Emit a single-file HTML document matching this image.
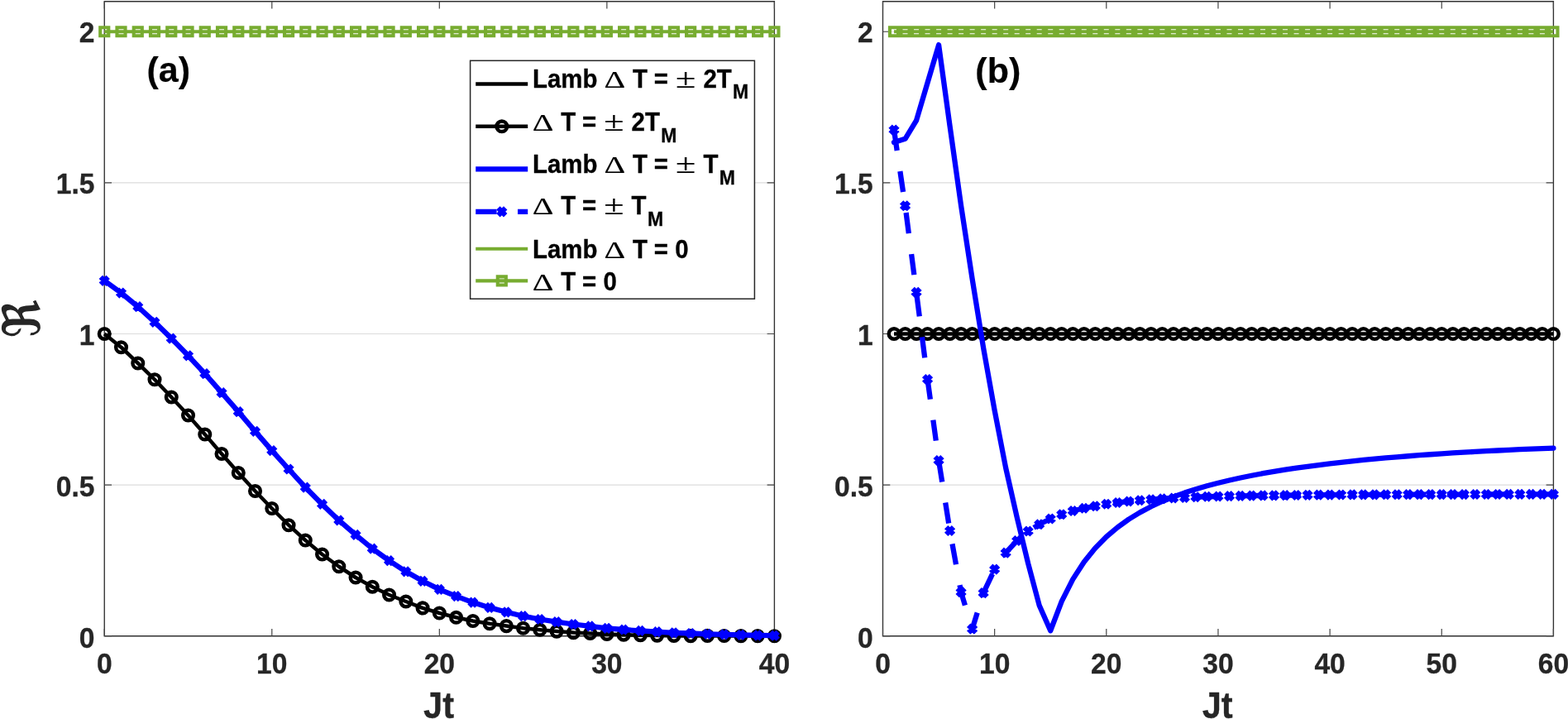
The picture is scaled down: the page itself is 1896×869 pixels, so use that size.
<!DOCTYPE html>
<html lang="en">
<head>
<meta charset="utf-8">
<title>Figure: R versus Jt, panels (a) and (b)</title>
<style>
html,body{margin:0;padding:0;background:#fff;}
body{width:1896px;height:869px;overflow:hidden;}
svg{display:block;}
text{font-family:"Liberation Sans",sans-serif;font-weight:bold;font-kerning:none;}
.tk{font-size:33.6px;fill:#262626;stroke:#262626;stroke-width:.3px;}
.xl{font-size:41.6px;fill:#262626;stroke:#262626;stroke-width:.3px;}
.re{font-family:"DejaVu Sans",serif;font-size:62.5px;fill:#262626;}
.pl{font-size:43px;fill:#000;stroke:#000;stroke-width:.2px;}
.lg{font-size:29.4px;fill:#000;stroke:#000;stroke-width:.3px;}
.sym{font-family:"Liberation Serif",serif;font-weight:normal;stroke-width:.15px;}
.d{font-size:29.19px;}
.p{font-size:31.73px;}
.sub{font-size:23px;}
</style>
</head>
<body>
<svg width="1896" height="869" viewBox="0 0 1896 869">
<rect width="1896" height="869" fill="#ffffff"/>
<!-- panel (a): axes, grid and data series -->
<g id="panel-a">
<path d="M126.25 586.12H936.4 M126.25 403.5H936.4 M126.25 220.88H936.4 M126.25 38.25H936.4" stroke="#dcdcdc" stroke-width="1.2" fill="none"/>
<path d="M126.25 1.7H936.4V768.75H126.25Z" stroke="#303030" stroke-width="1.35" fill="none"/>
<path d="M126.25 768.75v-8.8 M126.25 1.7v8.8 M328.79 768.75v-8.8 M328.79 1.7v8.8 M531.33 768.75v-8.8 M531.33 1.7v8.8 M733.86 768.75v-8.8 M733.86 1.7v8.8 M936.4 768.75v-8.8 M936.4 1.7v8.8 M126.25 768.75h8.8 M936.4 768.75h-8.8 M126.25 586.12h8.8 M936.4 586.12h-8.8 M126.25 403.5h8.8 M936.4 403.5h-8.8 M126.25 220.88h8.8 M936.4 220.88h-8.8 M126.25 38.25h8.8 M936.4 38.25h-8.8" stroke="#454545" stroke-width="1.2" fill="none"/>
<polyline points="126.25,403.5 146.5,419.7 166.76,439 187.01,458.75 207.26,480 227.52,502 247.77,525 268.03,548.5 288.28,571.5 308.53,593.5 328.79,614.5 349.04,634.7 369.29,653 389.55,670 409.8,684.75 430.06,698 450.31,709.25 470.56,719 490.82,727 511.07,734.9 531.33,741 551.58,746.3 571.83,750.5 592.09,753.8 612.34,756.6 632.59,759.2 652.85,761.3 673.1,763.1 693.36,764.6 713.61,765.5 733.86,766.5 754.12,767.2 774.37,767.7 794.62,768.1 814.88,768.4 835.13,768.6 855.38,768.4 875.64,768.5 895.89,768.6 916.15,768.6 936.4,768.7" fill="none" stroke="#000000" stroke-width="4.5" stroke-linejoin="round"/>
<path d="M119.95 403.5a6.3 6.3 0 1 0 12.6 0a6.3 6.3 0 1 0 -12.6 0z M140.2 419.7a6.3 6.3 0 1 0 12.6 0a6.3 6.3 0 1 0 -12.6 0z M160.46 439a6.3 6.3 0 1 0 12.6 0a6.3 6.3 0 1 0 -12.6 0z M180.71 458.75a6.3 6.3 0 1 0 12.6 0a6.3 6.3 0 1 0 -12.6 0z M200.96 480a6.3 6.3 0 1 0 12.6 0a6.3 6.3 0 1 0 -12.6 0z M221.22 502a6.3 6.3 0 1 0 12.6 0a6.3 6.3 0 1 0 -12.6 0z M241.47 525a6.3 6.3 0 1 0 12.6 0a6.3 6.3 0 1 0 -12.6 0z M261.73 548.5a6.3 6.3 0 1 0 12.6 0a6.3 6.3 0 1 0 -12.6 0z M281.98 571.5a6.3 6.3 0 1 0 12.6 0a6.3 6.3 0 1 0 -12.6 0z M302.23 593.5a6.3 6.3 0 1 0 12.6 0a6.3 6.3 0 1 0 -12.6 0z M322.49 614.5a6.3 6.3 0 1 0 12.6 0a6.3 6.3 0 1 0 -12.6 0z M342.74 634.7a6.3 6.3 0 1 0 12.6 0a6.3 6.3 0 1 0 -12.6 0z M362.99 653a6.3 6.3 0 1 0 12.6 0a6.3 6.3 0 1 0 -12.6 0z M383.25 670a6.3 6.3 0 1 0 12.6 0a6.3 6.3 0 1 0 -12.6 0z M403.5 684.75a6.3 6.3 0 1 0 12.6 0a6.3 6.3 0 1 0 -12.6 0z M423.76 698a6.3 6.3 0 1 0 12.6 0a6.3 6.3 0 1 0 -12.6 0z M444.01 709.25a6.3 6.3 0 1 0 12.6 0a6.3 6.3 0 1 0 -12.6 0z M464.26 719a6.3 6.3 0 1 0 12.6 0a6.3 6.3 0 1 0 -12.6 0z M484.52 727a6.3 6.3 0 1 0 12.6 0a6.3 6.3 0 1 0 -12.6 0z M504.77 734.9a6.3 6.3 0 1 0 12.6 0a6.3 6.3 0 1 0 -12.6 0z M525.03 741a6.3 6.3 0 1 0 12.6 0a6.3 6.3 0 1 0 -12.6 0z M545.28 746.3a6.3 6.3 0 1 0 12.6 0a6.3 6.3 0 1 0 -12.6 0z M565.53 750.5a6.3 6.3 0 1 0 12.6 0a6.3 6.3 0 1 0 -12.6 0z M585.79 753.8a6.3 6.3 0 1 0 12.6 0a6.3 6.3 0 1 0 -12.6 0z M606.04 756.6a6.3 6.3 0 1 0 12.6 0a6.3 6.3 0 1 0 -12.6 0z M626.29 759.2a6.3 6.3 0 1 0 12.6 0a6.3 6.3 0 1 0 -12.6 0z M646.55 761.3a6.3 6.3 0 1 0 12.6 0a6.3 6.3 0 1 0 -12.6 0z M666.8 763.1a6.3 6.3 0 1 0 12.6 0a6.3 6.3 0 1 0 -12.6 0z M687.06 764.6a6.3 6.3 0 1 0 12.6 0a6.3 6.3 0 1 0 -12.6 0z M707.31 765.5a6.3 6.3 0 1 0 12.6 0a6.3 6.3 0 1 0 -12.6 0z M727.56 766.5a6.3 6.3 0 1 0 12.6 0a6.3 6.3 0 1 0 -12.6 0z M747.82 767.2a6.3 6.3 0 1 0 12.6 0a6.3 6.3 0 1 0 -12.6 0z M768.07 767.7a6.3 6.3 0 1 0 12.6 0a6.3 6.3 0 1 0 -12.6 0z M788.32 768.1a6.3 6.3 0 1 0 12.6 0a6.3 6.3 0 1 0 -12.6 0z M808.58 768.4a6.3 6.3 0 1 0 12.6 0a6.3 6.3 0 1 0 -12.6 0z M828.83 768.6a6.3 6.3 0 1 0 12.6 0a6.3 6.3 0 1 0 -12.6 0z M849.09 768.4a6.3 6.3 0 1 0 12.6 0a6.3 6.3 0 1 0 -12.6 0z M869.34 768.5a6.3 6.3 0 1 0 12.6 0a6.3 6.3 0 1 0 -12.6 0z M889.59 768.6a6.3 6.3 0 1 0 12.6 0a6.3 6.3 0 1 0 -12.6 0z M909.85 768.6a6.3 6.3 0 1 0 12.6 0a6.3 6.3 0 1 0 -12.6 0z M930.1 768.7a6.3 6.3 0 1 0 12.6 0a6.3 6.3 0 1 0 -12.6 0z" fill="none" stroke="#000000" stroke-width="4.5"/>
<polyline points="126.25,339.3 146.5,354.05 166.76,370.7 187.01,389.3 207.26,409.1 227.52,429.8 247.77,451.6 268.03,474.6 288.28,497.6 308.53,521.35 328.79,544.6 349.04,567 369.29,589.1 389.55,609.4 409.8,628.9 430.06,646.4 450.31,663.1 470.56,677.6 490.82,690.8 511.07,702.3 531.33,712.4 551.58,720.6 571.83,728.1 592.09,734.4 612.34,739.8 632.59,744.7 652.85,748.5 673.1,751.7 693.36,754.5 713.61,756.9 733.86,759.3 754.12,761 774.37,762.4 794.62,763.7 814.88,764.8 835.13,765.5 855.38,766.3 875.64,766.9 895.89,767.4 916.15,767.8 936.4,768.2" fill="none" stroke="#0000ff" stroke-width="6.3" stroke-linejoin="round"/>
<path d="M121.85 334.9l8.8 8.8m-8.8 0l8.8 -8.8 M142.1 349.65l8.8 8.8m-8.8 0l8.8 -8.8 M162.36 366.3l8.8 8.8m-8.8 0l8.8 -8.8 M182.61 384.9l8.8 8.8m-8.8 0l8.8 -8.8 M202.86 404.7l8.8 8.8m-8.8 0l8.8 -8.8 M223.12 425.4l8.8 8.8m-8.8 0l8.8 -8.8 M243.37 447.2l8.8 8.8m-8.8 0l8.8 -8.8 M263.63 470.2l8.8 8.8m-8.8 0l8.8 -8.8 M283.88 493.2l8.8 8.8m-8.8 0l8.8 -8.8 M304.13 516.95l8.8 8.8m-8.8 0l8.8 -8.8 M324.39 540.2l8.8 8.8m-8.8 0l8.8 -8.8 M344.64 562.6l8.8 8.8m-8.8 0l8.8 -8.8 M364.89 584.7l8.8 8.8m-8.8 0l8.8 -8.8 M385.15 605l8.8 8.8m-8.8 0l8.8 -8.8 M405.4 624.5l8.8 8.8m-8.8 0l8.8 -8.8 M425.66 642l8.8 8.8m-8.8 0l8.8 -8.8 M445.91 658.7l8.8 8.8m-8.8 0l8.8 -8.8 M466.16 673.2l8.8 8.8m-8.8 0l8.8 -8.8 M486.42 686.4l8.8 8.8m-8.8 0l8.8 -8.8 M506.67 697.9l8.8 8.8m-8.8 0l8.8 -8.8 M526.93 708l8.8 8.8m-8.8 0l8.8 -8.8 M547.18 716.2l8.8 8.8m-8.8 0l8.8 -8.8 M567.43 723.7l8.8 8.8m-8.8 0l8.8 -8.8 M587.69 730l8.8 8.8m-8.8 0l8.8 -8.8 M607.94 735.4l8.8 8.8m-8.8 0l8.8 -8.8 M628.19 740.3l8.8 8.8m-8.8 0l8.8 -8.8 M648.45 744.1l8.8 8.8m-8.8 0l8.8 -8.8 M668.7 747.3l8.8 8.8m-8.8 0l8.8 -8.8 M688.96 750.1l8.8 8.8m-8.8 0l8.8 -8.8 M709.21 752.5l8.8 8.8m-8.8 0l8.8 -8.8 M729.46 754.9l8.8 8.8m-8.8 0l8.8 -8.8 M749.72 756.6l8.8 8.8m-8.8 0l8.8 -8.8 M769.97 758l8.8 8.8m-8.8 0l8.8 -8.8 M790.22 759.3l8.8 8.8m-8.8 0l8.8 -8.8 M810.48 760.4l8.8 8.8m-8.8 0l8.8 -8.8 M830.73 761.1l8.8 8.8m-8.8 0l8.8 -8.8 M850.99 761.9l8.8 8.8m-8.8 0l8.8 -8.8 M871.24 762.5l8.8 8.8m-8.8 0l8.8 -8.8 M891.49 763l8.8 8.8m-8.8 0l8.8 -8.8 M911.75 763.4l8.8 8.8m-8.8 0l8.8 -8.8 M932 763.8l8.8 8.8m-8.8 0l8.8 -8.8" fill="none" stroke="#0000ff" stroke-width="6.2" stroke-linecap="butt"/>
<polyline points="126.25,38.25 146.5,38.25 166.76,38.25 187.01,38.25 207.26,38.25 227.52,38.25 247.77,38.25 268.03,38.25 288.28,38.25 308.53,38.25 328.79,38.25 349.04,38.25 369.29,38.25 389.55,38.25 409.8,38.25 430.06,38.25 450.31,38.25 470.56,38.25 490.82,38.25 511.07,38.25 531.33,38.25 551.58,38.25 571.83,38.25 592.09,38.25 612.34,38.25 632.59,38.25 652.85,38.25 673.1,38.25 693.36,38.25 713.61,38.25 733.86,38.25 754.12,38.25 774.37,38.25 794.62,38.25 814.88,38.25 835.13,38.25 855.38,38.25 875.64,38.25 895.89,38.25 916.15,38.25 936.4,38.25" fill="none" stroke="#77ac30" stroke-width="4.1" stroke-linejoin="round"/>
<path d="M121.2 33.2h10.1v10.1h-10.1z M141.45 33.2h10.1v10.1h-10.1z M161.71 33.2h10.1v10.1h-10.1z M181.96 33.2h10.1v10.1h-10.1z M202.21 33.2h10.1v10.1h-10.1z M222.47 33.2h10.1v10.1h-10.1z M242.72 33.2h10.1v10.1h-10.1z M262.98 33.2h10.1v10.1h-10.1z M283.23 33.2h10.1v10.1h-10.1z M303.48 33.2h10.1v10.1h-10.1z M323.74 33.2h10.1v10.1h-10.1z M343.99 33.2h10.1v10.1h-10.1z M364.24 33.2h10.1v10.1h-10.1z M384.5 33.2h10.1v10.1h-10.1z M404.75 33.2h10.1v10.1h-10.1z M425.01 33.2h10.1v10.1h-10.1z M445.26 33.2h10.1v10.1h-10.1z M465.51 33.2h10.1v10.1h-10.1z M485.77 33.2h10.1v10.1h-10.1z M506.02 33.2h10.1v10.1h-10.1z M526.28 33.2h10.1v10.1h-10.1z M546.53 33.2h10.1v10.1h-10.1z M566.78 33.2h10.1v10.1h-10.1z M587.04 33.2h10.1v10.1h-10.1z M607.29 33.2h10.1v10.1h-10.1z M627.54 33.2h10.1v10.1h-10.1z M647.8 33.2h10.1v10.1h-10.1z M668.05 33.2h10.1v10.1h-10.1z M688.31 33.2h10.1v10.1h-10.1z M708.56 33.2h10.1v10.1h-10.1z M728.81 33.2h10.1v10.1h-10.1z M749.07 33.2h10.1v10.1h-10.1z M769.32 33.2h10.1v10.1h-10.1z M789.57 33.2h10.1v10.1h-10.1z M809.83 33.2h10.1v10.1h-10.1z M830.08 33.2h10.1v10.1h-10.1z M850.34 33.2h10.1v10.1h-10.1z M870.59 33.2h10.1v10.1h-10.1z M890.84 33.2h10.1v10.1h-10.1z M911.1 33.2h10.1v10.1h-10.1z M931.35 33.2h10.1v10.1h-10.1z" fill="none" stroke="#77ac30" stroke-width="4.1" stroke-linejoin="miter"/>
</g>
<!-- panel (b): axes, grid and data series -->
<g id="panel-b">
<path d="M1067.5 586.12H1878.4 M1067.5 403.5H1878.4 M1067.5 220.88H1878.4 M1067.5 38.25H1878.4" stroke="#dcdcdc" stroke-width="1.2" fill="none"/>
<path d="M1067.5 1.7H1878.4V768.75H1067.5Z" stroke="#303030" stroke-width="1.35" fill="none"/>
<path d="M1067.5 768.75v-8.8 M1067.5 1.7v8.8 M1202.65 768.75v-8.8 M1202.65 1.7v8.8 M1337.8 768.75v-8.8 M1337.8 1.7v8.8 M1472.95 768.75v-8.8 M1472.95 1.7v8.8 M1608.1 768.75v-8.8 M1608.1 1.7v8.8 M1743.25 768.75v-8.8 M1743.25 1.7v8.8 M1878.4 768.75v-8.8 M1878.4 1.7v8.8 M1067.5 768.75h8.8 M1878.4 768.75h-8.8 M1067.5 586.12h8.8 M1878.4 586.12h-8.8 M1067.5 403.5h8.8 M1878.4 403.5h-8.8 M1067.5 220.88h8.8 M1878.4 220.88h-8.8 M1067.5 38.25h8.8 M1878.4 38.25h-8.8" stroke="#454545" stroke-width="1.2" fill="none"/>
<polyline points="1081.02,403.5 1094.53,403.5 1108.05,403.5 1121.56,403.5 1135.08,403.5 1148.59,403.5 1162.11,403.5 1175.62,403.5 1189.13,403.5 1202.65,403.5 1216.16,403.5 1229.68,403.5 1243.19,403.5 1256.71,403.5 1270.22,403.5 1283.74,403.5 1297.26,403.5 1310.77,403.5 1324.29,403.5 1337.8,403.5 1351.32,403.5 1364.83,403.5 1378.35,403.5 1391.86,403.5 1405.38,403.5 1418.89,403.5 1432.4,403.5 1445.92,403.5 1459.43,403.5 1472.95,403.5 1486.47,403.5 1499.98,403.5 1513.5,403.5 1527.01,403.5 1540.53,403.5 1554.04,403.5 1567.56,403.5 1581.07,403.5 1594.59,403.5 1608.1,403.5 1621.62,403.5 1635.13,403.5 1648.64,403.5 1662.16,403.5 1675.68,403.5 1689.19,403.5 1702.7,403.5 1716.22,403.5 1729.74,403.5 1743.25,403.5 1756.76,403.5 1770.28,403.5 1783.8,403.5 1797.31,403.5 1810.83,403.5 1824.34,403.5 1837.86,403.5 1851.37,403.5 1864.89,403.5 1878.4,403.5" fill="none" stroke="#000000" stroke-width="4.5" stroke-linejoin="round"/>
<path d="M1074.72 403.5a6.3 6.3 0 1 0 12.6 0a6.3 6.3 0 1 0 -12.6 0z M1088.23 403.5a6.3 6.3 0 1 0 12.6 0a6.3 6.3 0 1 0 -12.6 0z M1101.75 403.5a6.3 6.3 0 1 0 12.6 0a6.3 6.3 0 1 0 -12.6 0z M1115.26 403.5a6.3 6.3 0 1 0 12.6 0a6.3 6.3 0 1 0 -12.6 0z M1128.78 403.5a6.3 6.3 0 1 0 12.6 0a6.3 6.3 0 1 0 -12.6 0z M1142.29 403.5a6.3 6.3 0 1 0 12.6 0a6.3 6.3 0 1 0 -12.6 0z M1155.81 403.5a6.3 6.3 0 1 0 12.6 0a6.3 6.3 0 1 0 -12.6 0z M1169.32 403.5a6.3 6.3 0 1 0 12.6 0a6.3 6.3 0 1 0 -12.6 0z M1182.84 403.5a6.3 6.3 0 1 0 12.6 0a6.3 6.3 0 1 0 -12.6 0z M1196.35 403.5a6.3 6.3 0 1 0 12.6 0a6.3 6.3 0 1 0 -12.6 0z M1209.87 403.5a6.3 6.3 0 1 0 12.6 0a6.3 6.3 0 1 0 -12.6 0z M1223.38 403.5a6.3 6.3 0 1 0 12.6 0a6.3 6.3 0 1 0 -12.6 0z M1236.89 403.5a6.3 6.3 0 1 0 12.6 0a6.3 6.3 0 1 0 -12.6 0z M1250.41 403.5a6.3 6.3 0 1 0 12.6 0a6.3 6.3 0 1 0 -12.6 0z M1263.92 403.5a6.3 6.3 0 1 0 12.6 0a6.3 6.3 0 1 0 -12.6 0z M1277.44 403.5a6.3 6.3 0 1 0 12.6 0a6.3 6.3 0 1 0 -12.6 0z M1290.96 403.5a6.3 6.3 0 1 0 12.6 0a6.3 6.3 0 1 0 -12.6 0z M1304.47 403.5a6.3 6.3 0 1 0 12.6 0a6.3 6.3 0 1 0 -12.6 0z M1317.99 403.5a6.3 6.3 0 1 0 12.6 0a6.3 6.3 0 1 0 -12.6 0z M1331.5 403.5a6.3 6.3 0 1 0 12.6 0a6.3 6.3 0 1 0 -12.6 0z M1345.02 403.5a6.3 6.3 0 1 0 12.6 0a6.3 6.3 0 1 0 -12.6 0z M1358.53 403.5a6.3 6.3 0 1 0 12.6 0a6.3 6.3 0 1 0 -12.6 0z M1372.05 403.5a6.3 6.3 0 1 0 12.6 0a6.3 6.3 0 1 0 -12.6 0z M1385.56 403.5a6.3 6.3 0 1 0 12.6 0a6.3 6.3 0 1 0 -12.6 0z M1399.08 403.5a6.3 6.3 0 1 0 12.6 0a6.3 6.3 0 1 0 -12.6 0z M1412.59 403.5a6.3 6.3 0 1 0 12.6 0a6.3 6.3 0 1 0 -12.6 0z M1426.11 403.5a6.3 6.3 0 1 0 12.6 0a6.3 6.3 0 1 0 -12.6 0z M1439.62 403.5a6.3 6.3 0 1 0 12.6 0a6.3 6.3 0 1 0 -12.6 0z M1453.13 403.5a6.3 6.3 0 1 0 12.6 0a6.3 6.3 0 1 0 -12.6 0z M1466.65 403.5a6.3 6.3 0 1 0 12.6 0a6.3 6.3 0 1 0 -12.6 0z M1480.17 403.5a6.3 6.3 0 1 0 12.6 0a6.3 6.3 0 1 0 -12.6 0z M1493.68 403.5a6.3 6.3 0 1 0 12.6 0a6.3 6.3 0 1 0 -12.6 0z M1507.2 403.5a6.3 6.3 0 1 0 12.6 0a6.3 6.3 0 1 0 -12.6 0z M1520.71 403.5a6.3 6.3 0 1 0 12.6 0a6.3 6.3 0 1 0 -12.6 0z M1534.23 403.5a6.3 6.3 0 1 0 12.6 0a6.3 6.3 0 1 0 -12.6 0z M1547.74 403.5a6.3 6.3 0 1 0 12.6 0a6.3 6.3 0 1 0 -12.6 0z M1561.26 403.5a6.3 6.3 0 1 0 12.6 0a6.3 6.3 0 1 0 -12.6 0z M1574.77 403.5a6.3 6.3 0 1 0 12.6 0a6.3 6.3 0 1 0 -12.6 0z M1588.29 403.5a6.3 6.3 0 1 0 12.6 0a6.3 6.3 0 1 0 -12.6 0z M1601.8 403.5a6.3 6.3 0 1 0 12.6 0a6.3 6.3 0 1 0 -12.6 0z M1615.32 403.5a6.3 6.3 0 1 0 12.6 0a6.3 6.3 0 1 0 -12.6 0z M1628.83 403.5a6.3 6.3 0 1 0 12.6 0a6.3 6.3 0 1 0 -12.6 0z M1642.35 403.5a6.3 6.3 0 1 0 12.6 0a6.3 6.3 0 1 0 -12.6 0z M1655.86 403.5a6.3 6.3 0 1 0 12.6 0a6.3 6.3 0 1 0 -12.6 0z M1669.38 403.5a6.3 6.3 0 1 0 12.6 0a6.3 6.3 0 1 0 -12.6 0z M1682.89 403.5a6.3 6.3 0 1 0 12.6 0a6.3 6.3 0 1 0 -12.6 0z M1696.4 403.5a6.3 6.3 0 1 0 12.6 0a6.3 6.3 0 1 0 -12.6 0z M1709.92 403.5a6.3 6.3 0 1 0 12.6 0a6.3 6.3 0 1 0 -12.6 0z M1723.44 403.5a6.3 6.3 0 1 0 12.6 0a6.3 6.3 0 1 0 -12.6 0z M1736.95 403.5a6.3 6.3 0 1 0 12.6 0a6.3 6.3 0 1 0 -12.6 0z M1750.46 403.5a6.3 6.3 0 1 0 12.6 0a6.3 6.3 0 1 0 -12.6 0z M1763.98 403.5a6.3 6.3 0 1 0 12.6 0a6.3 6.3 0 1 0 -12.6 0z M1777.5 403.5a6.3 6.3 0 1 0 12.6 0a6.3 6.3 0 1 0 -12.6 0z M1791.01 403.5a6.3 6.3 0 1 0 12.6 0a6.3 6.3 0 1 0 -12.6 0z M1804.53 403.5a6.3 6.3 0 1 0 12.6 0a6.3 6.3 0 1 0 -12.6 0z M1818.04 403.5a6.3 6.3 0 1 0 12.6 0a6.3 6.3 0 1 0 -12.6 0z M1831.56 403.5a6.3 6.3 0 1 0 12.6 0a6.3 6.3 0 1 0 -12.6 0z M1845.07 403.5a6.3 6.3 0 1 0 12.6 0a6.3 6.3 0 1 0 -12.6 0z M1858.59 403.5a6.3 6.3 0 1 0 12.6 0a6.3 6.3 0 1 0 -12.6 0z M1872.1 403.5a6.3 6.3 0 1 0 12.6 0a6.3 6.3 0 1 0 -12.6 0z" fill="none" stroke="#000000" stroke-width="4.5"/>
<polyline points="1081.02,172 1094.53,167.85 1108.05,145.6 1121.56,100 1135.08,54.3 1148.59,152.5 1162.11,248.65 1175.62,336.9 1189.13,420.6 1202.65,496 1216.16,565.5 1229.68,625.1 1243.19,681 1256.71,731.8 1270.22,762.32 1283.74,726.93 1297.26,700.14 1310.77,679.22 1324.29,662.46 1337.8,648.75 1351.32,637.32 1364.83,627.66 1378.35,619.4 1391.86,612.25 1405.38,606 1418.89,600.49 1432.4,595.6 1445.92,591.23 1459.43,587.29 1472.95,583.72 1486.47,580.46 1499.98,577.49 1513.5,574.75 1527.01,572.22 1540.53,569.89 1554.04,567.71 1567.56,565.69 1581.07,563.8 1594.59,562.03 1608.1,560.37 1621.62,558.82 1635.13,557.36 1648.64,555.99 1662.16,554.69 1675.68,553.47 1689.19,552.32 1702.7,551.24 1716.22,550.22 1729.74,549.25 1743.25,548.34 1756.76,547.48 1770.28,546.67 1783.8,545.9 1797.31,545.17 1810.83,544.48 1824.34,543.83 1837.86,543.22 1851.37,542.63 1864.89,542.08 1878.4,541.56" fill="none" stroke="#0000ff" stroke-width="6.3" stroke-linejoin="round" stroke-linecap="round"/>
<polyline points="1081.02,157 1094.53,248.75 1108.05,353.25 1121.56,458.5 1135.08,556.5 1148.59,641.5 1162.11,715.7 1175.62,760.2 1189.13,716.7 1202.65,688.1 1216.16,668.1 1229.68,653.5 1243.19,642 1256.71,633.75 1270.22,627 1283.74,621.75 1297.26,617.5 1310.77,614.25 1324.29,611.75 1337.8,609.25 1351.32,607.5 1364.83,606 1378.35,604.75 1391.86,603.75 1405.38,602.75 1418.89,602 1432.4,601.5 1445.92,600.75 1459.43,600.25 1472.95,600 1486.47,599.6 1499.98,599.34 1513.5,599.14 1527.01,598.96 1540.53,598.8 1554.04,598.64 1567.56,598.48 1581.07,598.33 1594.59,598.2 1608.1,598.08 1621.62,598 1635.13,597.93 1648.64,597.88 1662.16,597.82 1675.68,597.78 1689.19,597.73 1702.7,597.69 1716.22,597.66 1729.74,597.63 1743.25,597.6 1756.76,597.57 1770.28,597.55 1783.8,597.52 1797.31,597.5 1810.83,597.47 1824.34,597.45 1837.86,597.44 1851.37,597.42 1864.89,597.41 1878.4,597.4" fill="none" stroke="#0000ff" stroke-width="6.3" stroke-linejoin="round" stroke-dasharray="25.27 25.27"/>
<path d="M1076.62 152.6l8.8 8.8m-8.8 0l8.8 -8.8 M1090.13 244.35l8.8 8.8m-8.8 0l8.8 -8.8 M1103.64 348.85l8.8 8.8m-8.8 0l8.8 -8.8 M1117.16 454.1l8.8 8.8m-8.8 0l8.8 -8.8 M1130.67 552.1l8.8 8.8m-8.8 0l8.8 -8.8 M1144.19 637.1l8.8 8.8m-8.8 0l8.8 -8.8 M1157.7 711.3l8.8 8.8m-8.8 0l8.8 -8.8 M1171.22 755.8l8.8 8.8m-8.8 0l8.8 -8.8 M1184.73 712.3l8.8 8.8m-8.8 0l8.8 -8.8 M1198.25 683.7l8.8 8.8m-8.8 0l8.8 -8.8 M1211.76 663.7l8.8 8.8m-8.8 0l8.8 -8.8 M1225.28 649.1l8.8 8.8m-8.8 0l8.8 -8.8 M1238.79 637.6l8.8 8.8m-8.8 0l8.8 -8.8 M1252.31 629.35l8.8 8.8m-8.8 0l8.8 -8.8 M1265.82 622.6l8.8 8.8m-8.8 0l8.8 -8.8 M1279.34 617.35l8.8 8.8m-8.8 0l8.8 -8.8 M1292.86 613.1l8.8 8.8m-8.8 0l8.8 -8.8 M1306.37 609.85l8.8 8.8m-8.8 0l8.8 -8.8 M1319.88 607.35l8.8 8.8m-8.8 0l8.8 -8.8 M1333.4 604.85l8.8 8.8m-8.8 0l8.8 -8.8 M1346.91 603.1l8.8 8.8m-8.8 0l8.8 -8.8 M1360.43 601.6l8.8 8.8m-8.8 0l8.8 -8.8 M1373.94 600.35l8.8 8.8m-8.8 0l8.8 -8.8 M1387.46 599.35l8.8 8.8m-8.8 0l8.8 -8.8 M1400.97 598.35l8.8 8.8m-8.8 0l8.8 -8.8 M1414.49 597.6l8.8 8.8m-8.8 0l8.8 -8.8 M1428 597.1l8.8 8.8m-8.8 0l8.8 -8.8 M1441.52 596.35l8.8 8.8m-8.8 0l8.8 -8.8 M1455.03 595.85l8.8 8.8m-8.8 0l8.8 -8.8 M1468.55 595.6l8.8 8.8m-8.8 0l8.8 -8.8 M1482.07 595.2l8.8 8.8m-8.8 0l8.8 -8.8 M1495.58 594.94l8.8 8.8m-8.8 0l8.8 -8.8 M1509.1 594.74l8.8 8.8m-8.8 0l8.8 -8.8 M1522.61 594.56l8.8 8.8m-8.8 0l8.8 -8.8 M1536.12 594.4l8.8 8.8m-8.8 0l8.8 -8.8 M1549.64 594.24l8.8 8.8m-8.8 0l8.8 -8.8 M1563.15 594.08l8.8 8.8m-8.8 0l8.8 -8.8 M1576.67 593.93l8.8 8.8m-8.8 0l8.8 -8.8 M1590.18 593.8l8.8 8.8m-8.8 0l8.8 -8.8 M1603.7 593.68l8.8 8.8m-8.8 0l8.8 -8.8 M1617.21 593.6l8.8 8.8m-8.8 0l8.8 -8.8 M1630.73 593.53l8.8 8.8m-8.8 0l8.8 -8.8 M1644.24 593.48l8.8 8.8m-8.8 0l8.8 -8.8 M1657.76 593.42l8.8 8.8m-8.8 0l8.8 -8.8 M1671.28 593.38l8.8 8.8m-8.8 0l8.8 -8.8 M1684.79 593.33l8.8 8.8m-8.8 0l8.8 -8.8 M1698.3 593.29l8.8 8.8m-8.8 0l8.8 -8.8 M1711.82 593.26l8.8 8.8m-8.8 0l8.8 -8.8 M1725.34 593.23l8.8 8.8m-8.8 0l8.8 -8.8 M1738.85 593.2l8.8 8.8m-8.8 0l8.8 -8.8 M1752.36 593.17l8.8 8.8m-8.8 0l8.8 -8.8 M1765.88 593.15l8.8 8.8m-8.8 0l8.8 -8.8 M1779.39 593.12l8.8 8.8m-8.8 0l8.8 -8.8 M1792.91 593.1l8.8 8.8m-8.8 0l8.8 -8.8 M1806.43 593.07l8.8 8.8m-8.8 0l8.8 -8.8 M1819.94 593.05l8.8 8.8m-8.8 0l8.8 -8.8 M1833.45 593.04l8.8 8.8m-8.8 0l8.8 -8.8 M1846.97 593.02l8.8 8.8m-8.8 0l8.8 -8.8 M1860.49 593.01l8.8 8.8m-8.8 0l8.8 -8.8 M1874 593l8.8 8.8m-8.8 0l8.8 -8.8" fill="none" stroke="#0000ff" stroke-width="6.2" stroke-linecap="butt"/>
<polyline points="1081.02,38.25 1094.53,38.25 1108.05,38.25 1121.56,38.25 1135.08,38.25 1148.59,38.25 1162.11,38.25 1175.62,38.25 1189.13,38.25 1202.65,38.25 1216.16,38.25 1229.68,38.25 1243.19,38.25 1256.71,38.25 1270.22,38.25 1283.74,38.25 1297.26,38.25 1310.77,38.25 1324.29,38.25 1337.8,38.25 1351.32,38.25 1364.83,38.25 1378.35,38.25 1391.86,38.25 1405.38,38.25 1418.89,38.25 1432.4,38.25 1445.92,38.25 1459.43,38.25 1472.95,38.25 1486.47,38.25 1499.98,38.25 1513.5,38.25 1527.01,38.25 1540.53,38.25 1554.04,38.25 1567.56,38.25 1581.07,38.25 1594.59,38.25 1608.1,38.25 1621.62,38.25 1635.13,38.25 1648.64,38.25 1662.16,38.25 1675.68,38.25 1689.19,38.25 1702.7,38.25 1716.22,38.25 1729.74,38.25 1743.25,38.25 1756.76,38.25 1770.28,38.25 1783.8,38.25 1797.31,38.25 1810.83,38.25 1824.34,38.25 1837.86,38.25 1851.37,38.25 1864.89,38.25 1878.4,38.25" fill="none" stroke="#77ac30" stroke-width="4.1" stroke-linejoin="round"/>
<path d="M1075.97 33.2h10.1v10.1h-10.1z M1089.48 33.2h10.1v10.1h-10.1z M1103 33.2h10.1v10.1h-10.1z M1116.51 33.2h10.1v10.1h-10.1z M1130.03 33.2h10.1v10.1h-10.1z M1143.54 33.2h10.1v10.1h-10.1z M1157.06 33.2h10.1v10.1h-10.1z M1170.57 33.2h10.1v10.1h-10.1z M1184.09 33.2h10.1v10.1h-10.1z M1197.6 33.2h10.1v10.1h-10.1z M1211.12 33.2h10.1v10.1h-10.1z M1224.63 33.2h10.1v10.1h-10.1z M1238.14 33.2h10.1v10.1h-10.1z M1251.66 33.2h10.1v10.1h-10.1z M1265.17 33.2h10.1v10.1h-10.1z M1278.69 33.2h10.1v10.1h-10.1z M1292.21 33.2h10.1v10.1h-10.1z M1305.72 33.2h10.1v10.1h-10.1z M1319.24 33.2h10.1v10.1h-10.1z M1332.75 33.2h10.1v10.1h-10.1z M1346.27 33.2h10.1v10.1h-10.1z M1359.78 33.2h10.1v10.1h-10.1z M1373.3 33.2h10.1v10.1h-10.1z M1386.81 33.2h10.1v10.1h-10.1z M1400.33 33.2h10.1v10.1h-10.1z M1413.84 33.2h10.1v10.1h-10.1z M1427.36 33.2h10.1v10.1h-10.1z M1440.87 33.2h10.1v10.1h-10.1z M1454.38 33.2h10.1v10.1h-10.1z M1467.9 33.2h10.1v10.1h-10.1z M1481.42 33.2h10.1v10.1h-10.1z M1494.93 33.2h10.1v10.1h-10.1z M1508.45 33.2h10.1v10.1h-10.1z M1521.96 33.2h10.1v10.1h-10.1z M1535.48 33.2h10.1v10.1h-10.1z M1548.99 33.2h10.1v10.1h-10.1z M1562.51 33.2h10.1v10.1h-10.1z M1576.02 33.2h10.1v10.1h-10.1z M1589.54 33.2h10.1v10.1h-10.1z M1603.05 33.2h10.1v10.1h-10.1z M1616.57 33.2h10.1v10.1h-10.1z M1630.08 33.2h10.1v10.1h-10.1z M1643.6 33.2h10.1v10.1h-10.1z M1657.11 33.2h10.1v10.1h-10.1z M1670.63 33.2h10.1v10.1h-10.1z M1684.14 33.2h10.1v10.1h-10.1z M1697.65 33.2h10.1v10.1h-10.1z M1711.17 33.2h10.1v10.1h-10.1z M1724.69 33.2h10.1v10.1h-10.1z M1738.2 33.2h10.1v10.1h-10.1z M1751.71 33.2h10.1v10.1h-10.1z M1765.23 33.2h10.1v10.1h-10.1z M1778.75 33.2h10.1v10.1h-10.1z M1792.26 33.2h10.1v10.1h-10.1z M1805.78 33.2h10.1v10.1h-10.1z M1819.29 33.2h10.1v10.1h-10.1z M1832.81 33.2h10.1v10.1h-10.1z M1846.32 33.2h10.1v10.1h-10.1z M1859.84 33.2h10.1v10.1h-10.1z M1873.35 33.2h10.1v10.1h-10.1z" fill="none" stroke="#77ac30" stroke-width="4.1" stroke-linejoin="miter"/>
</g>
<!-- tick labels, axis labels and panel tags -->
<g id="axis-labels-a">
<text class="tk" transform="translate(126.25 814.3) scale(1 1.05)" text-anchor="middle">0</text>
<text class="tk" transform="translate(328.79 814.3) scale(1 1.05)" text-anchor="middle">10</text>
<text class="tk" transform="translate(531.33 814.3) scale(1 1.05)" text-anchor="middle">20</text>
<text class="tk" transform="translate(733.86 814.3) scale(1 1.05)" text-anchor="middle">30</text>
<text class="tk" transform="translate(936.4 814.3) scale(1 1.05)" text-anchor="middle">40</text>
<text class="tk" transform="translate(114.45 782.55) scale(1 1.05)" text-anchor="end">0</text>
<text class="tk" transform="translate(114.45 599.65) scale(1 1.05)" text-anchor="end">0.5</text>
<text class="tk" transform="translate(114.45 416.75) scale(1 1.05)" text-anchor="end">1</text>
<text class="tk" transform="translate(114.45 233.85) scale(1 1.05)" text-anchor="end">1.5</text>
<text class="tk" transform="translate(114.45 50.95) scale(1 1.05)" text-anchor="end">2</text>
<text class="xl" transform="translate(530.53 867.6) scale(1 1.08)" text-anchor="middle">Jt</text>
</g>
<g id="axis-labels-b">
<text class="tk" transform="translate(1067.5 814.3) scale(1 1.05)" text-anchor="middle">0</text>
<text class="tk" transform="translate(1202.65 814.3) scale(1 1.05)" text-anchor="middle">10</text>
<text class="tk" transform="translate(1337.8 814.3) scale(1 1.05)" text-anchor="middle">20</text>
<text class="tk" transform="translate(1472.95 814.3) scale(1 1.05)" text-anchor="middle">30</text>
<text class="tk" transform="translate(1608.1 814.3) scale(1 1.05)" text-anchor="middle">40</text>
<text class="tk" transform="translate(1743.25 814.3) scale(1 1.05)" text-anchor="middle">50</text>
<text class="tk" transform="translate(1878.4 814.3) scale(1 1.05)" text-anchor="middle">60</text>
<text class="tk" transform="translate(1055.7 782.55) scale(1 1.05)" text-anchor="end">0</text>
<text class="tk" transform="translate(1055.7 599.65) scale(1 1.05)" text-anchor="end">0.5</text>
<text class="tk" transform="translate(1055.7 416.75) scale(1 1.05)" text-anchor="end">1</text>
<text class="tk" transform="translate(1055.7 233.85) scale(1 1.05)" text-anchor="end">1.5</text>
<text class="tk" transform="translate(1055.7 50.95) scale(1 1.05)" text-anchor="end">2</text>
<text class="xl" transform="translate(1472.15 867.6) scale(1 1.08)" text-anchor="middle">Jt</text>
</g>
<text class="re" transform="translate(47.7 408.4) rotate(-90) scale(0.91 1)">ℜ</text>
<text class="pl" transform="translate(203.8 99.2) scale(1 0.985)" text-anchor="middle">(a)</text>
<text class="pl" transform="translate(1206.8 99.6) scale(1 0.985)" text-anchor="middle">(b)</text>
<!-- legend of panel (a) -->
<g id="legend">
<rect x="568.6" y="73.3" width="343.8" height="287.9" fill="#fff" stroke="#262626" stroke-width="1.5"/>
<polyline points="575.2,101.5 638.2,101.5" fill="none" stroke="#000000" stroke-width="4.5" stroke-linejoin="round"/>
<polyline points="575.2,152.8 638.2,152.8" fill="none" stroke="#000000" stroke-width="4.5" stroke-linejoin="round"/>
<path d="M600.5 152.8a6.3 6.3 0 1 0 12.6 0a6.3 6.3 0 1 0 -12.6 0z" fill="none" stroke="#000000" stroke-width="4.5"/>
<polyline points="575.2,204.4 638.2,204.4" fill="none" stroke="#0000ff" stroke-width="6.3" stroke-linejoin="round"/>
<polyline points="575.2,255.8 638.2,255.8" fill="none" stroke="#0000ff" stroke-width="6.3" stroke-linejoin="round" stroke-dasharray="25.4 25.4"/>
<path d="M602.4 251.4l8.8 8.8m-8.8 0l8.8 -8.8" fill="none" stroke="#0000ff" stroke-width="6.2" stroke-linecap="butt"/>
<polyline points="575.2,300.8 638.2,300.8" fill="none" stroke="#77ac30" stroke-width="4.1" stroke-linejoin="round"/>
<polyline points="575.2,339.4 638.2,339.4" fill="none" stroke="#77ac30" stroke-width="4.1" stroke-linejoin="round"/>
<path d="M601.75 334.35h10.1v10.1h-10.1z" fill="none" stroke="#77ac30" stroke-width="4.1" stroke-linejoin="miter"/>
<text class="lg" transform="translate(0 105.5) scale(1 1.04)"><tspan x="644">Lamb</tspan> <tspan class="sym d" x="730.5" textLength="25.68" lengthAdjust="spacingAndGlyphs">Δ</tspan> <tspan x="765.1">T</tspan> <tspan x="790.7">=</tspan> <tspan class="sym p" x="817.1" textLength="24.27" lengthAdjust="spacingAndGlyphs">±</tspan> <tspan x="850.4">2T</tspan><tspan class="sub" x="886" dy="13.37">M</tspan></text>
<text class="lg" transform="translate(0 157.7) scale(1 1.04)"><tspan class="sym d" x="643.7" textLength="25.68" lengthAdjust="spacingAndGlyphs">Δ</tspan> <tspan x="678.3">T</tspan> <tspan x="703.9">=</tspan> <tspan class="sym p" x="730.3" textLength="24.27" lengthAdjust="spacingAndGlyphs">±</tspan> <tspan x="763.6">2T</tspan><tspan class="sub" x="799.2" dy="13.37">M</tspan></text>
<text class="lg" transform="translate(0 209) scale(1 1.04)"><tspan x="644">Lamb</tspan> <tspan class="sym d" x="730.5" textLength="25.68" lengthAdjust="spacingAndGlyphs">Δ</tspan> <tspan x="765.1">T</tspan> <tspan x="790.7">=</tspan> <tspan class="sym p" x="817.1" textLength="24.27" lengthAdjust="spacingAndGlyphs">±</tspan> <tspan x="850.4">T</tspan><tspan class="sub" x="869.7" dy="13.37">M</tspan></text>
<text class="lg" transform="translate(0 259.4) scale(1 1.04)"><tspan class="sym d" x="643.7" textLength="25.68" lengthAdjust="spacingAndGlyphs">Δ</tspan> <tspan x="678.3">T</tspan> <tspan x="703.9">=</tspan> <tspan class="sym p" x="730.3" textLength="24.27" lengthAdjust="spacingAndGlyphs">±</tspan> <tspan x="763.6">T</tspan><tspan class="sub" x="782.9" dy="13.37">M</tspan></text>
<text class="lg" transform="translate(0 311.7) scale(1 1.04)"><tspan x="644">Lamb</tspan> <tspan class="sym d" x="730.5" textLength="25.68" lengthAdjust="spacingAndGlyphs">Δ</tspan> <tspan x="765.1">T</tspan> <tspan x="790.7">=</tspan> <tspan x="816.2">0</tspan></text>
<text class="lg" transform="translate(0 350.9) scale(1 1.04)"><tspan class="sym d" x="643.7" textLength="25.68" lengthAdjust="spacingAndGlyphs">Δ</tspan> <tspan x="678.3">T</tspan> <tspan x="703.9">=</tspan> <tspan x="729.4">0</tspan></text>
</g>
</svg>
</body>
</html>
